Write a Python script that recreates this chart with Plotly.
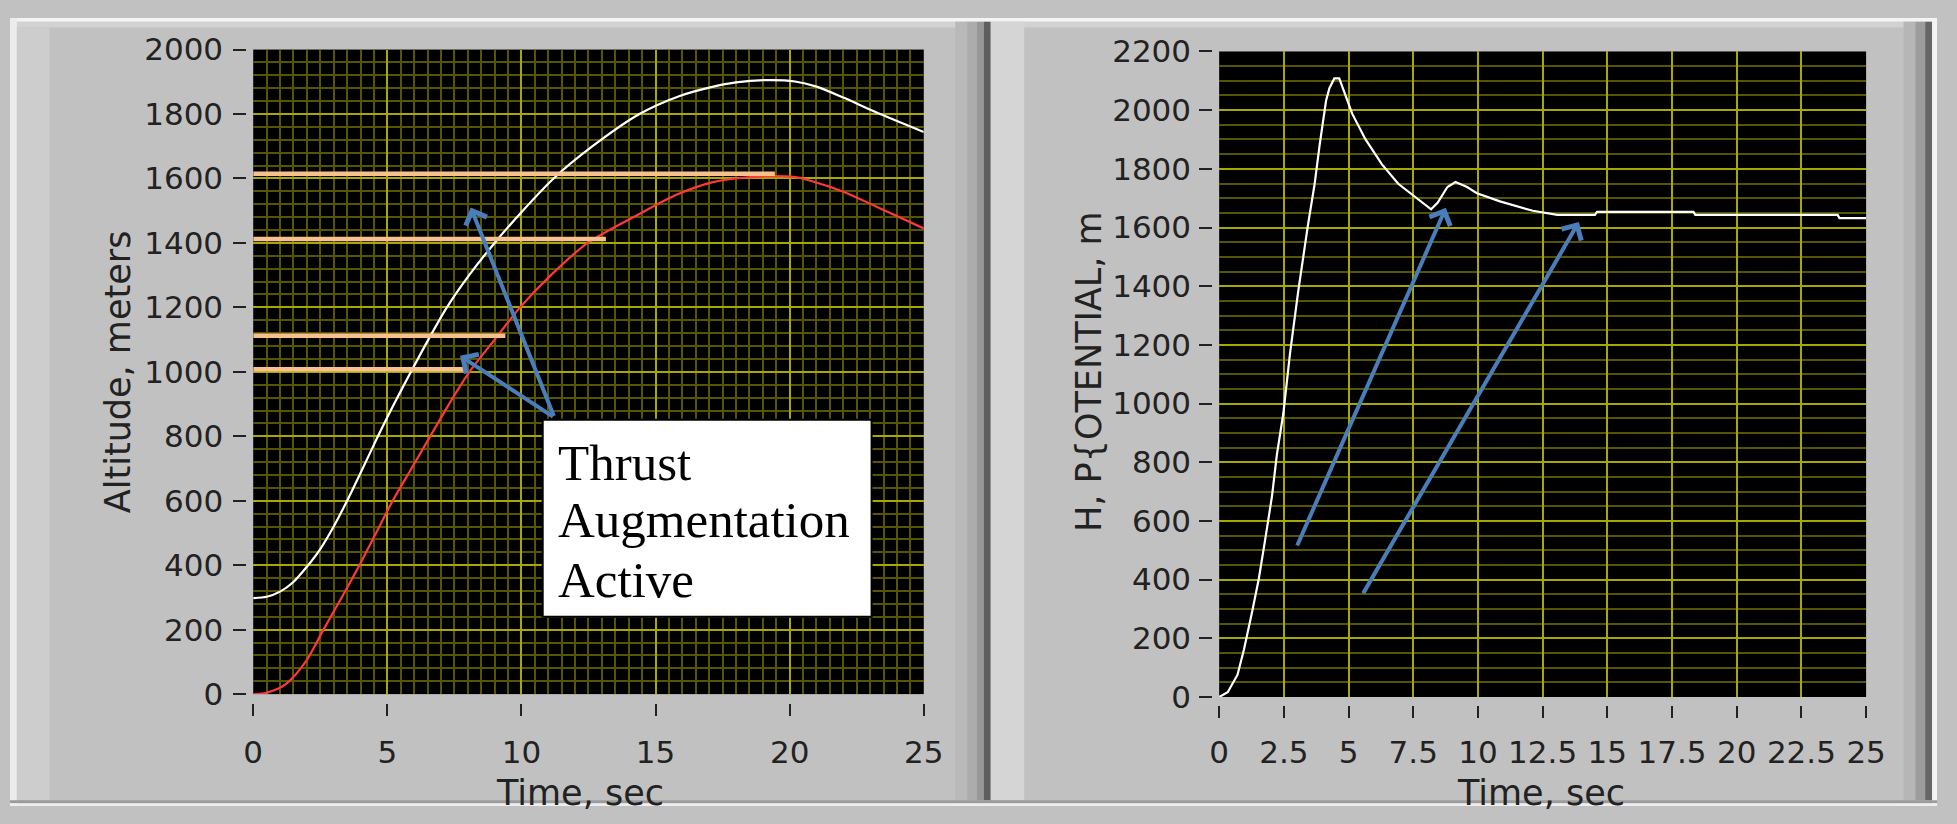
import plotly.graph_objects as go

# ---------------- data ----------------
# Left panel: altitude (m) vs time (s)
time_upper = [0, 0.5, 1.0, 1.5, 2.0, 2.5, 3.0, 3.5, 4.08, 4.65, 5.25, 5.88, 6.53, 7.22, 8.05,
              9.0, 10.05, 11.2, 12.65, 14.4, 15.9, 17.0, 18.0, 19.1, 20.2, 21.0, 22.0, 23.2, 25.0]
alt_upper = [298, 302, 318, 348, 395, 450, 520, 600, 700, 800, 900, 1000, 1100, 1200, 1300,
             1400, 1500, 1600, 1700, 1800, 1856, 1882, 1898, 1905, 1901, 1885, 1851, 1806, 1744]

time_lower = [0, 0.5, 1.2, 1.95, 2.62, 3.3, 3.96, 4.58, 5.2, 5.9, 6.6, 7.3, 8.06, 9.0, 9.95,
              11.1, 12.47, 14.4, 15.8, 17.1, 18.35, 19.4, 20.2, 20.9, 22.0, 23.2, 25.0]
alt_lower = [0, 4, 30, 100, 200, 300, 400, 500, 600, 700, 800, 900, 1000, 1100, 1200,
             1300, 1400, 1490, 1550, 1588, 1603, 1607, 1604, 1590, 1559, 1514, 1445]

# Thrust augmentation levels (m) and the time each bar reaches (s)
aug_levels = [1615, 1412, 1112, 1008]
aug_end_time = [19.45, 13.15, 9.4, 7.9]

# Right panel: potential height (m) vs time (s)
time_pot = [0, 0.33, 0.71, 0.96, 1.28, 1.53, 1.79, 2.04, 2.23, 2.48, 2.74, 3.05, 3.43, 3.69,
            3.88, 4.13, 4.26, 4.45, 4.64, 4.83, 5.14, 5.65, 6.29, 6.92, 7.55, 8.19, 8.44,
            8.82, 9.13, 9.58, 9.96, 10.85, 12.12, 13.07, 14.52, 14.6, 18.33, 18.4, 23.9,
            23.97, 25.0]
h_pot = [0, 16, 76, 163, 293, 402, 543, 684, 826, 967, 1173, 1380, 1608, 1749,
         1880, 2032, 2075, 2108, 2108, 2064, 1988, 1901, 1815, 1749, 1706, 1662, 1684,
         1738, 1755, 1738, 1717, 1689, 1657, 1643, 1643, 1653, 1653, 1643, 1643,
         1632, 1632]

# Tick labels
left_x_ticks = [0, 5, 10, 15, 20, 25]
left_y_ticks = [0, 200, 400, 600, 800, 1000, 1200, 1400, 1600, 1800, 2000]
right_x_ticks = [0, 2.5, 5, 7.5, 10, 12.5, 15, 17.5, 20, 22.5, 25]
right_x_labels = ["0", "2.5", "5", "7.5", "10", "12.5", "15", "17.5", "20", "22.5", "25"]
right_y_ticks = [0, 200, 400, 600, 800, 1000, 1200, 1400, 1600, 1800, 2000, 2200]

# Callout arrows: (tail_t, tail_h, tip_t, tip_h)
left_arrows = [(11.23, 858, 8.11, 1510), (11.23, 858, 7.71, 1050)]
right_arrows = [(2.99, 511, 8.76, 1667), (5.53, 348, 13.9, 1619)]

# ---------------- geometry helpers ----------------
W, H = 1957, 824


def px(x):
    return x / W


def py(y):
    return 1 - y / H


MAJOR = "#a8a800"
MINOR = "#565600"
TICKFONT = dict(family="DejaVu Sans", size=31, color="#222222")
TITLEFONT = dict(family="DejaVu Sans", size=35, color="#222222")
ARROW = "#4a7ebb"

fig = go.Figure()

fig.add_trace(go.Scatter(x=time_upper, y=alt_upper, mode="lines",
                         line=dict(color="white", width=2.2, shape="spline", smoothing=0.8),
                         xaxis="x", yaxis="y", hoverinfo="skip"))
fig.add_trace(go.Scatter(x=time_lower, y=alt_lower, mode="lines",
                         line=dict(color="#ff3838", width=2.2, shape="spline", smoothing=0.8),
                         xaxis="x", yaxis="y", hoverinfo="skip"))

# augmentation bars drawn from t = 0 to each end time
bar_x, bar_y = [], []
for lvl, t_end in zip(aug_levels, aug_end_time):
    bar_x += [0, t_end, None]
    bar_y += [lvl, lvl, None]
fig.add_trace(go.Scatter(x=bar_x, y=bar_y, mode="lines",
                         line=dict(color="#f8c08e", width=4.5),
                         xaxis="x", yaxis="y", hoverinfo="skip"))

fig.add_trace(go.Scatter(x=time_pot, y=h_pot, mode="lines",
                         line=dict(color="white", width=2.2),
                         xaxis="x2", yaxis="y2", hoverinfo="skip"))

common_axis = dict(showline=False, zeroline=False, ticks="outside", tickwidth=2,
                   tickcolor="#222222", tickfont=TICKFONT, fixedrange=True)

fig.update_layout(
    width=W, height=H,
    margin=dict(l=0, r=0, t=0, b=0),
    paper_bgcolor="#c1c1c1",
    plot_bgcolor="black",
    showlegend=False,
    xaxis=dict(domain=[px(247), px(928)], range=[0, 25], anchor="free", position=py(716),
               tickvals=left_x_ticks, ticklen=12, ticklabelstandoff=10,
               showgrid=True, gridcolor=MAJOR, gridwidth=1.5,
               minor=dict(dtick=0.5, tick0=0, showgrid=True, gridcolor=MINOR, gridwidth=1.5),
               **common_axis),
    yaxis=dict(domain=[py(707), py(33)], range=[0, 2000], anchor="free", position=px(240),
               tickvals=left_y_ticks, ticklen=13, ticklabelstandoff=4,
               showgrid=True, gridcolor=MAJOR, gridwidth=1.5,
               minor=dict(dtick=40, tick0=0, showgrid=True, gridcolor=MINOR, gridwidth=1.5),
               **common_axis),
    xaxis2=dict(domain=[px(1228), px(1885)], range=[0, 25], anchor="free", position=py(718),
                tickvals=right_x_ticks, ticktext=right_x_labels, ticklen=12, ticklabelstandoff=8,
                showgrid=True, gridcolor=MAJOR, gridwidth=1.5, **common_axis),
    yaxis2=dict(domain=[py(710), py(35)], range=[0, 2200], anchor="free", position=px(1221),
                tickvals=right_y_ticks, ticklen=13, ticklabelstandoff=2,
                showgrid=True, gridcolor=MAJOR, gridwidth=1.5,
                minor=dict(dtick=50, tick0=0, showgrid=True, gridcolor=MINOR, gridwidth=1.5),
                **common_axis),
)

# ---------------- window frame decoration ----------------
def band(x0, y0, x1, y1, color):
    return dict(type="rect", xref="paper", yref="paper", x0=px(x0), x1=px(x1),
                y0=py(y1), y1=py(y0), fillcolor=color, line=dict(width=0), layer="below")


shapes = [
    band(0, 0, W, 4, "#f4f4f4"),
    band(0, 4, W, 10, "#d2d2d2"),
    band(0, 0, 7, H, "#ececec"),
    band(7, 10, 40, 818, "#cdcdcd"),
    band(960, 4, 972, 818, "#b9b9b9"),
    band(972, 4, 982, 818, "#acacac"),
    band(982, 4, 989, 818, "#979797"),
    band(989, 4, 996, 818, "#5e5e5e"),
    band(996, 4, 1030, 818, "#d5d5d5"),
    band(1923, 4, 1935, 818, "#b6b6b6"),
    band(1935, 4, 1945, 818, "#9c9c9c"),
    band(1945, 4, 1952, 818, "#666666"),
    band(1952, 0, W, H, "#f4f4f4"),
    band(0, 818, W, 821, "#9c9c9c"),
    band(0, 821, W, H, "#eeeeee"),
    # callout box
    dict(type="rect", xref="paper", yref="paper", x0=px(541), x1=px(875),
         y0=py(626), y1=py(420), fillcolor="white",
         line=dict(color="black", width=2), layer="above"),
]
fig.update_layout(shapes=shapes)

annotations = []
# axis titles
annotations.append(dict(text="Altitude, meters", x=px(110), y=py(370), xref="paper", yref="paper",
                        textangle=-90, showarrow=False, font=TITLEFONT,
                        xanchor="center", yanchor="middle"))
annotations.append(dict(text="H, P{OTENTIAL, m", x=px(1096), y=py(370), xref="paper", yref="paper",
                        textangle=-90, showarrow=False, font=TITLEFONT,
                        xanchor="center", yanchor="middle"))
annotations.append(dict(text="Time, sec", x=px(579), y=py(810), xref="paper", yref="paper",
                        showarrow=False, font=TITLEFONT, xanchor="center", yanchor="middle"))
annotations.append(dict(text="Time, sec", x=px(1555), y=py(810), xref="paper", yref="paper",
                        showarrow=False, font=TITLEFONT, xanchor="center", yanchor="middle"))

# callout text
for line, yc in zip(["Thrust", "Augmentation", "Active"], [465, 525, 588]):
    annotations.append(dict(text=line, x=px(555), y=py(yc), xref="paper", yref="paper",
                            showarrow=False, xanchor="left", yanchor="middle",
                            font=dict(family="Liberation Serif", size=51, color="black")))

# callout arrows
for (t0, h0, t1, h1), xr, yr in ([(a, "x", "y") for a in left_arrows] +
                                 [(a, "x2", "y2") for a in right_arrows]):
    annotations.append(dict(text="", x=t1, y=h1, ax=t0, ay=h0, xref=xr, yref=yr,
                            axref=xr, ayref=yr, showarrow=True, arrowhead=4,
                            arrowsize=1.1, arrowwidth=4, arrowcolor=ARROW, standoff=0))

fig.update_layout(annotations=annotations)

fig.write_html("out.html", config={"displayModeBar": False})
